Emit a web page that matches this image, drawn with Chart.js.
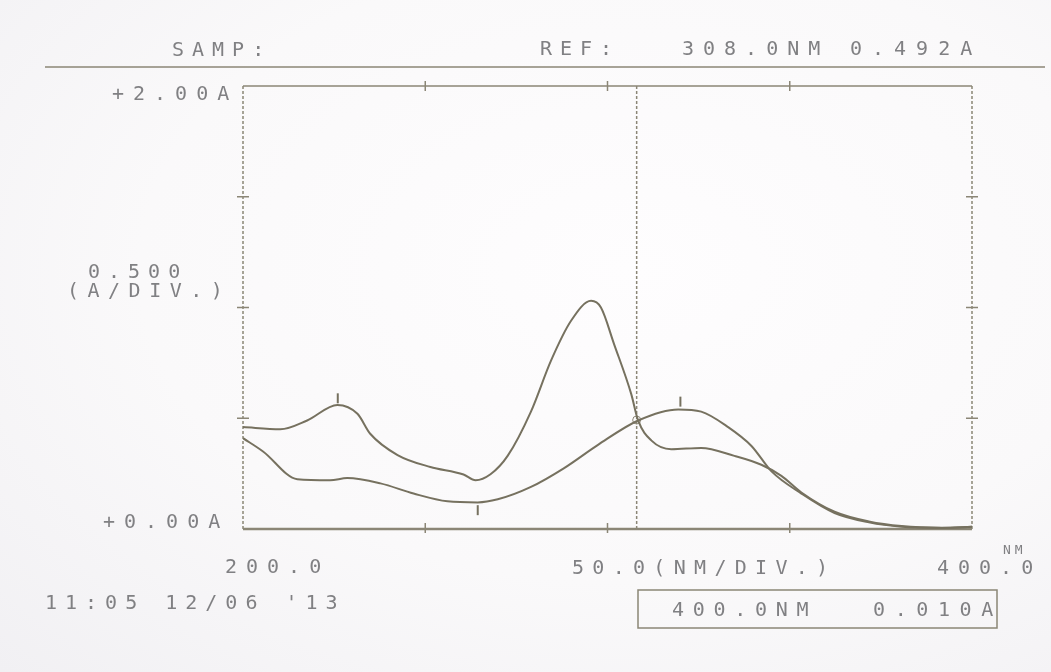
<!DOCTYPE html>
<html>
<head>
<meta charset="utf-8">
<title>UV spectrum printout</title>
<script src="https://cdn.jsdelivr.net/npm/chart.js@4.4.1/dist/chart.umd.min.js"></script>
<style>
  html, body { margin: 0; padding: 0; }
  body {
    width: 1051px; height: 672px; overflow: hidden;
    background: radial-gradient(ellipse at 60% 40%, #fefdfe 0%, #faf9fa 55%, #f1f0f3 100%);
  }
  #wrap { position: relative; width: 1051px; height: 672px; }
</style>
</head>
<body>
<div id="wrap"><canvas id="spectrum" width="1051" height="672"></canvas></div>
<script>
// Scan range and axis divisions
const wavelengthTicks = [200, 250, 300, 350, 400];
const absTicks = [0, 0.5, 1.0, 1.5, 2.0];

// Trace 1: two bands (~226 nm and ~296 nm)
const sampleWl  = [200, 210.2, 217.6, 225.9, 231.4, 234.9, 242.4, 251.4, 260.5, 263.8, 267.9, 272.6, 279, 284.5, 290, 295.5, 298.2, 301.8, 306.5, 308.4, 312, 317.5, 325.7, 334.8, 342.2, 347.7, 353.2, 362.3, 371.7, 380.7, 391.7, 400];
const sampleAbs = [0.46, 0.45, 0.49, 0.56, 0.52, 0.43, 0.334, 0.28, 0.246, 0.22, 0.247, 0.33, 0.53, 0.76, 0.94, 1.03, 1.0, 0.835, 0.61, 0.49, 0.4, 0.36, 0.366, 0.33, 0.29, 0.24, 0.165, 0.078, 0.034, 0.013, 0.006, 0.01];

// Trace 2: broad band (~319 nm)
const refWl  = [200, 205.5, 214.9, 223.9, 228.6, 237.7, 246.8, 256.1, 264.4, 269.9, 279, 288, 297.4, 308.4, 319.4, 325.7, 333.1, 339.5, 345, 353.2, 362.3, 371.7, 380.7, 391.7, 400];
const refAbs = [0.41, 0.35, 0.225, 0.22, 0.23, 0.206, 0.16, 0.125, 0.12, 0.134, 0.19, 0.274, 0.38, 0.49, 0.54, 0.53, 0.46, 0.375, 0.26, 0.16, 0.072, 0.03, 0.01, 0.005, 0.01];

// Peak / valley pick marks
const markWl  = [226, 264.4, 320];
const markAbs = [0.59, 0.085, 0.575];

// Cursor and end-of-scan readouts
const cursorNm = 308.0, cursorAbs = 0.492;
const endNm = 400.0, endAbs = 0.010;
const stamp = "11:05 12/06 '13";

const ink = '#76715f';
const frameInk = '#8b8676';
const textInk = '#808083';
const mono = '"DejaVu Sans Mono", "Liberation Mono", monospace';

const pts = (xs, ys) => xs.map((v, i) => ({ x: v, y: ys[i] }));

const printout = {
  id: 'printout',
  beforeDatasetsDraw(chart) {
    const { ctx, chartArea: a, scales: { x, y } } = chart;
    const seg = (x1, y1, x2, y2) => { ctx.beginPath(); ctx.moveTo(x1, y1); ctx.lineTo(x2, y2); ctx.stroke(); };
    ctx.save();
    ctx.strokeStyle = frameInk;

    // frame: solid top/bottom, dotted sides
    ctx.lineWidth = 1.5;
    seg(a.left, a.top, a.right, a.top);
    ctx.lineWidth = 2.5;
    seg(a.left, a.bottom, a.right, a.bottom);
    ctx.lineWidth = 1.5;
    ctx.setLineDash([3, 2]);
    seg(a.left, a.top, a.left, a.bottom);
    seg(a.right, a.top, a.right, a.bottom);
    // cursor line
    const cx = x.getPixelForValue(cursorNm);
    seg(cx, a.top, cx, a.bottom);
    ctx.setLineDash([]);

    // division crosses
    absTicks.slice(1, -1).forEach(v => {
      const py = y.getPixelForValue(v);
      seg(a.left - 6, py, a.left + 6, py);
      seg(a.right - 6, py, a.right + 6, py);
    });
    wavelengthTicks.slice(1, -1).forEach(v => {
      const px = x.getPixelForValue(v);
      seg(px, a.top - 5, px, a.top + 5);
      seg(px, a.bottom - 6, px, a.bottom + 4);
    });

    // header rule
    ctx.lineWidth = 1.5;
    seg(45, 67, 1045, 67);

    // readout box
    ctx.strokeRect(638, 590, 359, 38);

    // printed text
    ctx.fillStyle = textInk;
    ctx.textBaseline = 'alphabetic';
    const put = (s, px, py, sp, size) => {
      ctx.font = (size || 20) + 'px ' + mono;
      ctx.letterSpacing = sp + 'px';
      ctx.fillText(s, px, py);
    };
    put('SAMP:', 172, 56, 8);
    put('REF:', 540, 55, 8);
    put(cursorNm.toFixed(1) + 'NM', 682, 55, 9);
    put(cursorAbs.toFixed(3) + 'A', 850, 55, 10);

    put('+' + absTicks[absTicks.length - 1].toFixed(2) + 'A', 112, 100, 9);
    put((absTicks[1]).toFixed(3), 88, 278, 8);
    put('(A/DIV.)', 67, 297, 8.5);
    put('+' + absTicks[0].toFixed(2) + 'A', 103, 528, 9);

    put(wavelengthTicks[0].toFixed(1), x.getPixelForValue(wavelengthTicks[0]) - 18, 573, 9);
    put((wavelengthTicks[1] - wavelengthTicks[0]).toFixed(1) + '(NM/DIV.)', 572, 574, 8.3);
    put(wavelengthTicks[wavelengthTicks.length - 1].toFixed(1), x.getPixelForValue(wavelengthTicks[wavelengthTicks.length - 1]) - 35, 574, 9);
    put('NM', 1003, 554, 4, 13);

    put(stamp, 45, 609, 8);
    put(endNm.toFixed(1) + 'NM', 672, 616, 8.7);
    put(endAbs.toFixed(3) + 'A', 873, 616, 9.6);
    ctx.restore();
  }
};

new Chart(document.getElementById('spectrum').getContext('2d'), {
  type: 'line',
  data: {
    datasets: [
      {
        label: 'trace 1',
        data: pts(sampleWl, sampleAbs),
        borderColor: ink,
        borderWidth: 2,
        cubicInterpolationMode: 'monotone',
        pointRadius: 0,
        fill: false
      },
      {
        label: 'trace 2',
        data: pts(refWl, refAbs),
        borderColor: ink,
        borderWidth: 2,
        cubicInterpolationMode: 'monotone',
        pointRadius: 0,
        fill: false
      },
      {
        label: 'peaks',
        type: 'scatter',
        data: pts(markWl, markAbs),
        pointStyle: 'line',
        rotation: 90,
        pointRadius: 5,
        borderColor: ink,
        borderWidth: 2
      },
      {
        label: 'cursor',
        type: 'scatter',
        data: [{ x: cursorNm, y: cursorAbs }],
        pointStyle: 'circle',
        pointRadius: 4,
        backgroundColor: 'rgba(0,0,0,0)',
        borderColor: frameInk,
        borderWidth: 1
      }
    ]
  },
  options: {
    responsive: false,
    animation: false,
    layout: { padding: { left: 243, right: 79, top: 86, bottom: 143 } },
    plugins: { legend: { display: false }, tooltip: { enabled: false } },
    scales: {
      x: { type: 'linear', min: 200, max: 400, display: false },
      y: { type: 'linear', min: 0, max: 2, display: false }
    }
  },
  plugins: [printout]
});
</script>
</body>
</html>
